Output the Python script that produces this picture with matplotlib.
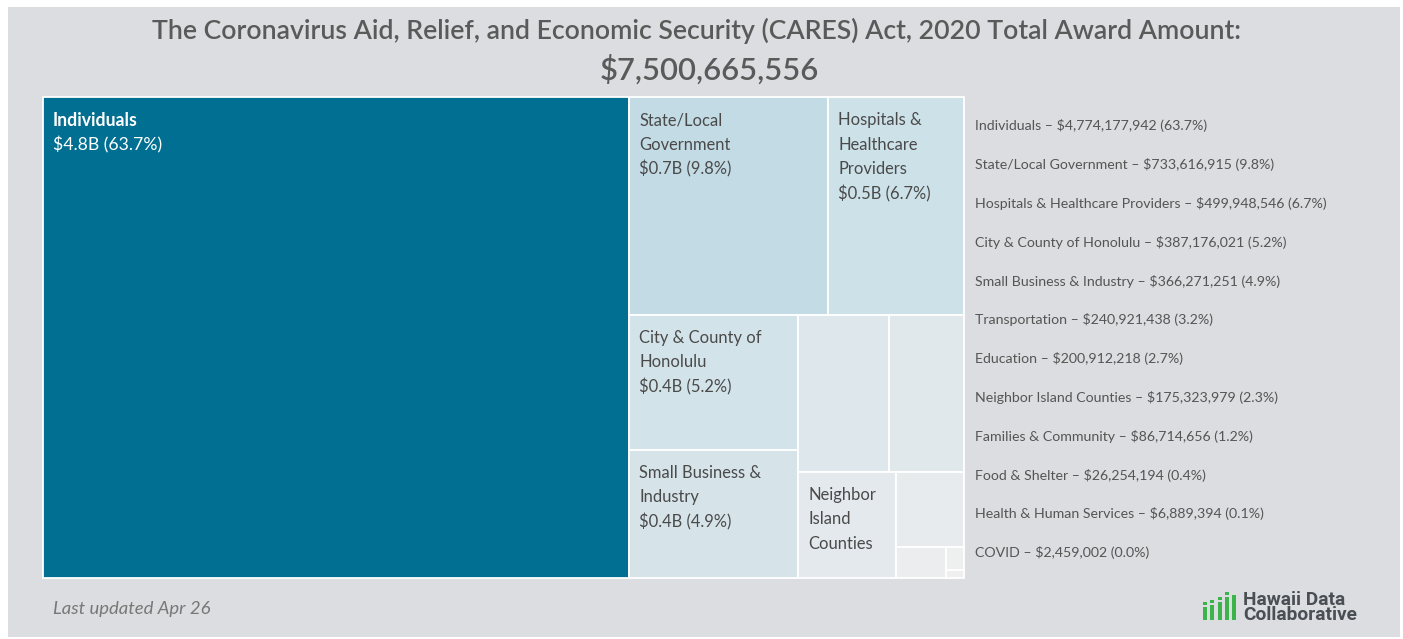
import matplotlib
matplotlib.use("Agg")
import matplotlib.pyplot as plt
from matplotlib.patches import Rectangle

plt.rcParams['font.family'] = ['Lato', 'DejaVu Sans']

# award amounts by category (USD)
categories = ["Individuals", "State/Local Government", "Hospitals & Healthcare Providers",
              "City & County of Honolulu", "Small Business & Industry", "Transportation",
              "Education", "Neighbor Island Counties", "Families & Community",
              "Food & Shelter", "Health & Human Services", "COVID"]
amounts = [4774177942, 733616915, 499948546, 387176021, 366271251, 240921438,
           200912218, 175323979, 86714656, 26254194, 6889394, 2459002]
# wrapped names shown inside the boxes (None = box too small for a label)
box_names = ["Individuals", "State/Local\nGovernment", "Hospitals &\nHealthcare\nProviders",
             "City & County of\nHonolulu", "Small Business &\nIndustry", None,
             None, "Neighbor\nIsland\nCounties", None, None, None, None]
show_value = [True, True, True, True, True, False, False, False, False, False, False, False]
fills = ["#006f91", "#c3dbe4", "#cce1e8", "#d3e3ea", "#d6e4ea", "#dee7eb",
         "#e1e8eb", "#e3e9ec", "#e7ebed", "#ebedee", "#eeefef", "#efeff0"]

total = sum(amounts)


def mean_aspect(areas, side):
    # side = length of the strip edge, thickness = area / side
    s = sum(areas)
    thick = s / side
    r = []
    for a in areas:
        ln = a / thick
        r.append(max(ln / thick, thick / ln))
    return sum(r) / len(r)


def treemap(vals, x, y, w, h):
    out = []
    i = 0
    n = len(vals)
    while i < n:
        rest = sum(vals[i:])
        areas = [v / rest * w * h for v in vals[i:]]
        side = min(w, h)
        k = 1
        best = mean_aspect(areas[:1], side)
        while k < len(areas):
            cand = mean_aspect(areas[:k + 1], side)
            if cand <= best:
                best = cand
                k += 1
            else:
                break
        strip = sum(areas[:k])
        if w >= h:
            # column on the left, items top to bottom
            cw = strip / h
            yy = y
            for a in areas[:k]:
                hh = a / cw
                out.append((x, yy, cw, hh))
                yy += hh
            x += cw
            w -= cw
        else:
            # row along the top, items left to right
            rh = strip / w
            xx = x
            for a in areas[:k]:
                ww = a / rh
                out.append((xx, y, ww, rh))
                xx += ww
            y += rh
            h -= rh
        i += k
    return out


W, H = 1403, 639
fig = plt.figure(figsize=(W / 100, H / 100), dpi=100)
fig.patch.set_facecolor("white")
ax = fig.add_axes([0, 0, 1, 1])
ax.set_xlim(0, W)
ax.set_ylim(H, 0)
ax.axis("off")

ax.add_patch(Rectangle((8, 7), 1392, 630, facecolor="#dcdde0", edgecolor="none"))

ax.text(W / 2 - 5, 31, "The Coronavirus Aid, Relief, and Economic Security (CARES) Act, 2020 Total Award Amount:",
        ha="center", va="center", fontsize=19.2, color="#5a5a5a", fontweight="semibold")
ax.text(709, 70, "${:,}".format(total), ha="center", va="center", fontsize=22.3,
        color="#5a5a5a", fontweight="semibold")

rects = treemap(amounts, 43, 97, 921, 481)
for idx, (rx, ry, rw, rh) in enumerate(rects):
    ax.add_patch(Rectangle((rx, ry), rw, rh, facecolor=fills[idx], edgecolor="white", linewidth=1.3))
    if box_names[idx] is None:
        continue
    lines = box_names[idx].split("\n")
    if show_value[idx]:
        v = amounts[idx]
        lines.append("${:.1f}B ({:.1f}%)".format(v / 1e9, v / total * 100))
    dark = idx == 0
    for j, ln in enumerate(lines):
        bold = dark and j == 0
        ax.text(rx + 10, ry + 23 + j * 24.5, ln, ha="left", va="center",
                fontsize=12.7 if dark else 11.9, color="white" if dark else "#4a4a4a",
                fontweight="bold" if bold else "normal")

# side list with exact amounts
for j, (c, v) in enumerate(zip(categories, amounts)):
    ax.text(975, 126 + j * 38.8, "{} \u2013 ${:,} ({:.1f}%)".format(c, v, v / total * 100),
            ha="left", va="center", fontsize=10.2, color="#555555")

ax.text(53, 609, "Last updated Apr 26", ha="left", va="center", fontsize=13.3,
        style="italic", color="#777777")

# logo
green = "#3cb44b"
bar_x = [1203, 1210, 1218, 1225, 1232]
bar_top = [607, 605, 602, 597, 595]
has_dot = [True, True, True, True, False]
for bx, bt, d in zip(bar_x, bar_top, has_dot):
    ax.add_patch(Rectangle((bx, bt), 3.6, 620 - bt, facecolor=green, edgecolor="none"))
    if d:
        ax.add_patch(Rectangle((bx, bt - 5.5), 3.6, 3.5, facecolor=green, edgecolor="none"))
ax.text(1243, 607.5, "Hawaii Data\nCollaborative", ha="left", va="center", fontsize=13.8,
        color="#4a4f55", fontweight="bold", family="Roboto", linespacing=0.78)

fig.savefig("out.png", dpi=100, facecolor=fig.get_facecolor())
